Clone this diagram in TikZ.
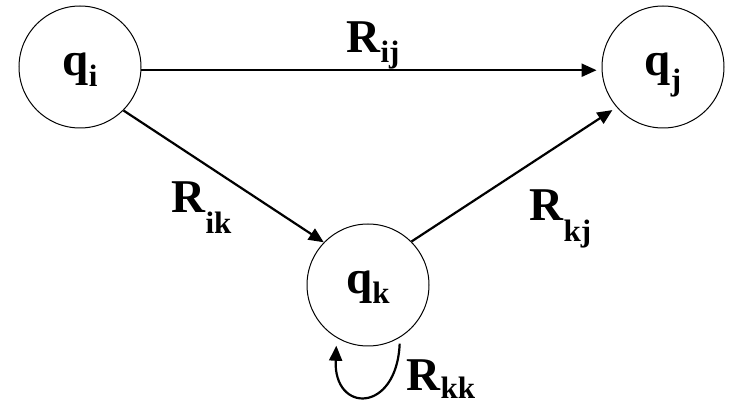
\documentclass[tikz,border=0pt]{standalone}
\usepackage{fontspec}
\setmainfont{Liberation Serif}
\usetikzlibrary{arrows.meta}
\newcommand\lbl[3]{\textbf{#1}\raisebox{-#3pt}{\fontsize{31}{31}\selectfont\bfseries #2}}
\begin{document}
\begin{tikzpicture}[x=1pt,y=-1pt,
  state/.style={circle,draw,line width=1pt,minimum size=122pt,inner sep=0pt,
    font=\fontsize{47}{50}\selectfont\bfseries,text height=25pt,text depth=7pt},
  edge/.style={line width=2.2pt,-{Triangle[length=15pt,width=13pt]}},
  lab/.style={anchor=base west,inner sep=0pt,font=\fontsize{47}{50}\selectfont\bfseries}]
\useasboundingbox (0,0) rectangle (729,406);
\node[state] (qi) at (80,67) {\lbl{q}{i}{11}};
\node[state] (qj) at (663,67) {\lbl{q}{j}{15}};
\node[state] (qk) at (368,285) {\lbl{q}{k}{10}};
\node[lab] (rij) at (346,53) {\lbl{R}{ij}{10}};
\node[lab] (rik) at (171,213) {\lbl{R}{ik}{21}};
\node[lab] (rkj) at (529,221) {\lbl{R}{kj}{21}};
\node[lab] (rkk) at (406,390) {\lbl{R}{kk}{9}};
\draw[edge,shorten >=5pt] (qi.-3) -- (qj.183);
\draw[edge] (qi.-45) -- (qk.136);
\draw[edge,shorten >=5pt] (qk.45) -- (qj.221);
\draw[edge] ([yshift=-6pt]qk.-59) .. controls +(-3,70) and +(-3,68) .. ([yshift=-8pt]qk.-121);
\end{tikzpicture}
\end{document}
